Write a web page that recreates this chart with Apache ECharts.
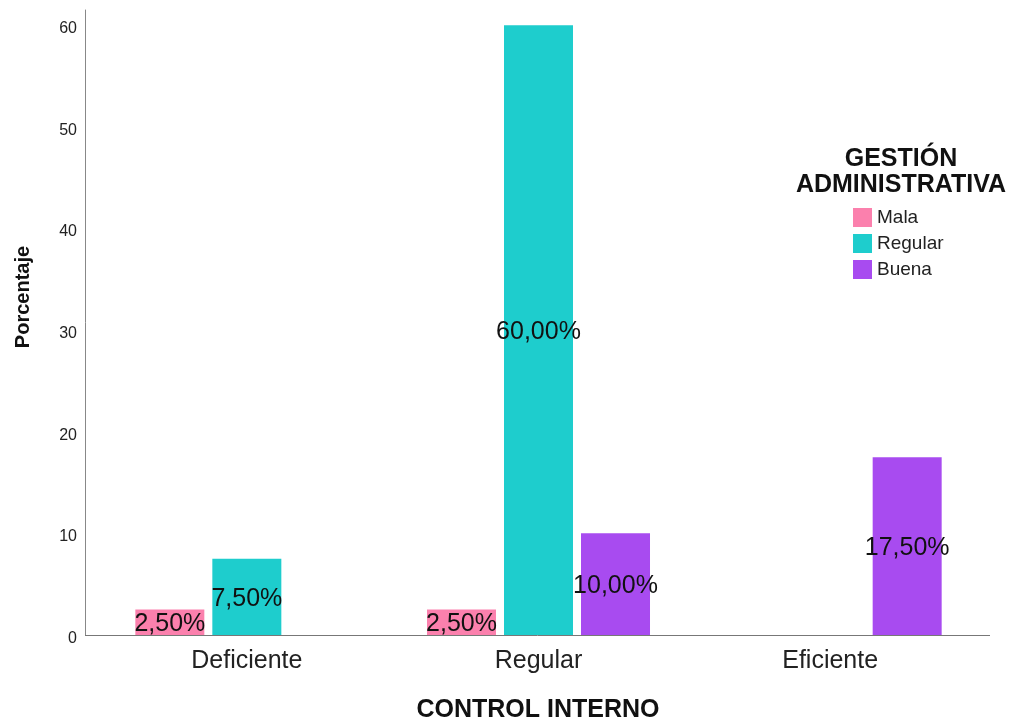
<!DOCTYPE html>
<html>
<head>
<meta charset="utf-8">
<script src="https://cdn.jsdelivr.net/npm/echarts@6/dist/echarts.min.js"></script>
<style>
  html, body { margin: 0; padding: 0; background: #fff; }
  #chart { width: 1018px; height: 724px; }
</style>
</head>
<body>
<div id="chart"></div>
<script>
// Control interno (categorías del eje X)
const categories = ['Deficiente', 'Regular', 'Eficiente'];
// Gestión administrativa: porcentaje por nivel
const mala    = [2.5, 2.5, null];
const regular = [7.5, 60.0, null];
const buena   = [null, 10.0, 17.5];
const seriesNames = ['Mala', 'Regular', 'Buena'];
const seriesColors = ['#fb80ad', '#1ecdcd', '#a84bf0'];
const yTicks = [0, 10, 20, 30, 40, 50, 60];

const FONT = '"Liberation Sans", Arial, sans-serif';

function fmt(v) {
  return v.toFixed(2).replace('.', ',') + '%';
}

function barSeries(name, data, color) {
  return {
    name: name,
    type: 'bar',
    data: data,
    barWidth: 69,
    barGap: '11.6%',
    itemStyle: { color: color },
    label: {
      show: true,
      position: 'inside',
      offset: [0, 2],
      formatter: p => fmt(p.value),
      color: '#111',
      fontFamily: FONT,
      fontSize: 25
    }
  };
}

const chart = echarts.init(document.getElementById('chart'), null, { renderer: 'canvas' });

chart.setOption({
  animation: false,
  backgroundColor: '#fff',
  grid: { left: 101, right: 42, top: 10, bottom: 89 },
  xAxis: {
    type: 'category',
    data: categories,
    axisLine: { show: false },
    axisTick: { show: false },
    axisLabel: {
      color: '#222',
      fontFamily: FONT,
      fontSize: 25,
      lineHeight: 25,
      margin: 14
    }
  },
  yAxis: {
    type: 'value',
    min: yTicks[0],
    max: 61.5,
    interval: yTicks[1] - yTicks[0],
    offset: 16,
    axisLine: { show: true, lineStyle: { color: '#888', width: 1 } },
    axisTick: { show: false },
    splitLine: { show: false },
    axisLabel: {
      showMaxLabel: false,
      color: '#222',
      fontFamily: FONT,
      fontSize: 16,
      verticalAlign: 'top',
      lineHeight: 7,
      margin: 8
    }
  },
  legend: {
    orient: 'vertical',
    left: 853,
    top: 208,
    padding: 0,
    itemWidth: 19,
    itemHeight: 19,
    itemGap: 7,
    icon: 'rect',
    data: seriesNames,
    textStyle: { color: '#222', fontFamily: FONT, fontSize: 19 }
  },
  graphic: [
    {
      type: 'line',
      shape: { x1: 85, y1: 635.5, x2: 990, y2: 635.5 },
      style: { stroke: '#777', lineWidth: 1 },
      z: 10
    },
    {
      type: 'text',
      x: 901, y: 172,
      style: {
        text: 'GESTIÓN\nADMINISTRATIVA',
        font: 'bold 25px ' + FONT,
        fill: '#111',
        align: 'center',
        verticalAlign: 'middle',
        lineHeight: 26
      }
    },
    {
      type: 'text',
      x: 538, y: 710,
      style: {
        text: 'CONTROL INTERNO',
        font: 'bold 25px ' + FONT,
        fill: '#111',
        align: 'center',
        verticalAlign: 'middle'
      }
    },
    {
      type: 'text',
      x: 23, y: 297,
      rotation: Math.PI / 2,
      style: {
        text: 'Porcentaje',
        font: 'bold 20px ' + FONT,
        fill: '#111',
        align: 'center',
        verticalAlign: 'middle'
      }
    }
  ],
  series: [
    barSeries(seriesNames[0], mala, seriesColors[0]),
    barSeries(seriesNames[1], regular, seriesColors[1]),
    barSeries(seriesNames[2], buena, seriesColors[2])
  ]
});
</script>
</body>
</html>
